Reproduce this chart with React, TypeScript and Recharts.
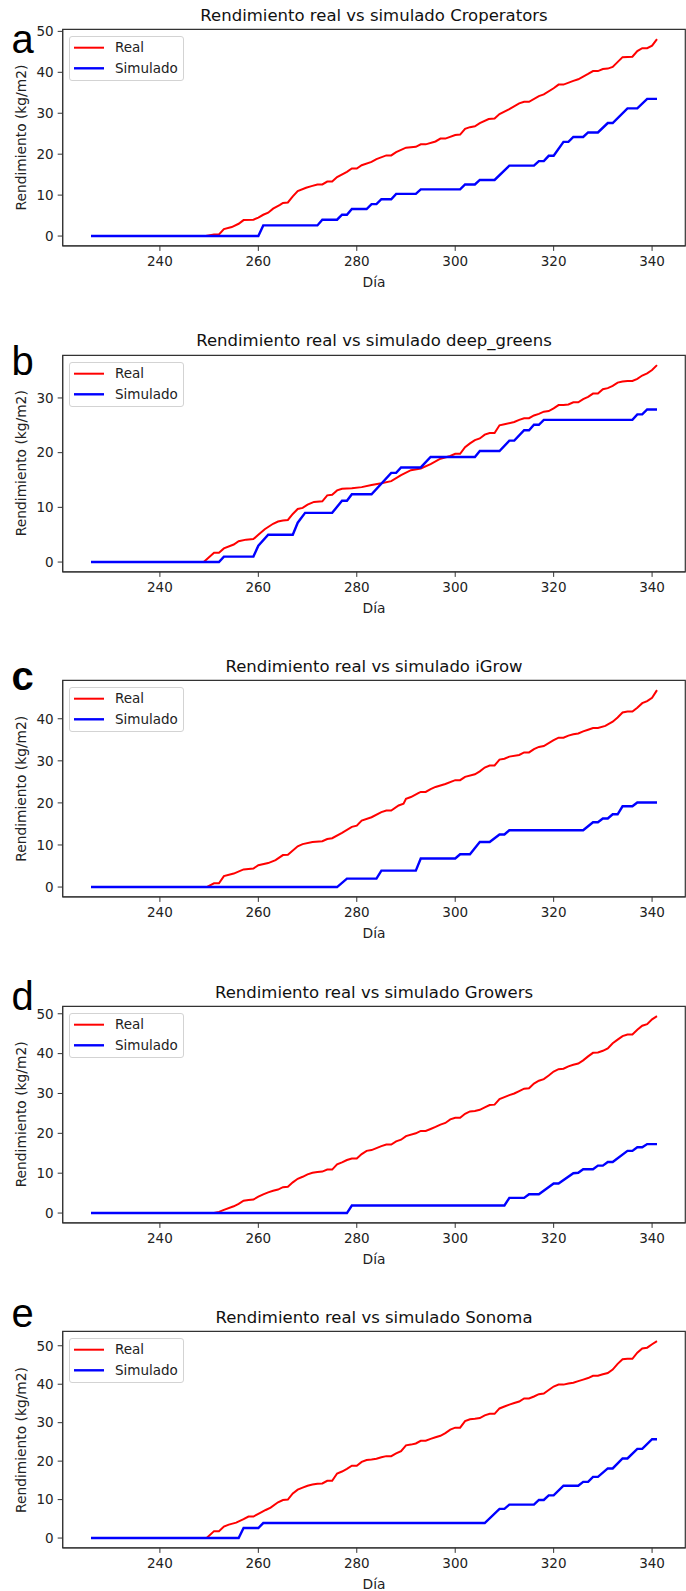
import { LineChart, Line, XAxis, YAxis, ReferenceArea, Legend } from 'recharts';

type Pt = [number, number];

// day -> kg/m2
const realA: Pt[] = [[226,0],[249.3,0],[251,0.4],[252,0.4],[253,1.7],[254.6,2.2],[256,3.0],[257,3.9],[259,4.0],[260,4.5],[261,5.2],[262,5.7],[263,6.7],[264.4,7.6],[265,8.1],[266,8.2],[267,9.7],[268,11.0],[269.7,11.8],[270.8,12.2],[272,12.6],[273,12.6],[274,13.3],[275,13.3],[276,14.4],[278,15.7],[279,16.5],[280,16.5],[281,17.3],[283,18.1],[284,18.8],[286,19.7],[287,19.7],[288,20.5],[290,21.6],[292,21.8],[293,22.4],[294,22.4],[296,23.1],[297,23.8],[298,23.8],[300,24.7],[301,24.8],[302,26.2],[303,26.6],[304,26.8],[305,27.6],[306.8,28.6],[308,28.7],[309,29.8],[311,31.0],[313,32.4],[314,32.8],[315,32.8],[317,34.2],[318,34.6],[320,36.1],[321,37.0],[322,37.0],[324,37.9],[325,38.3],[327,39.6],[328,40.3],[329,40.3],[330,40.8],[331,40.9],[332,41.3],[334,43.7],[336,43.8],[337,45.2],[338,45.9],[339,45.9],[340,46.5],[341,48.1]];
const simA: Pt[] = [[226,0],[260,0],[261,2.6],[272,2.6],[273,4.0],[276,4.0],[277,5.2],[278,5.2],[279,6.6],[282,6.6],[283,7.8],[284,7.8],[285,9.0],[287,9.0],[288,10.3],[292,10.3],[293,11.4],[301,11.4],[302,12.6],[304,12.6],[305,13.7],[308,13.7],[311,17.2],[316,17.2],[317,18.3],[318,18.3],[319,19.6],[320,19.6],[322,23.0],[323,23.0],[324,24.2],[326,24.2],[327,25.3],[329,25.3],[331,27.6],[332,27.6],[335,31.2],[337,31.2],[339,33.5],[341,33.5]];

const realB: Pt[] = [[226,0],[248.9,0],[251,1.7],[252,1.7],[253,2.5],[255,3.2],[256,3.8],[257.5,4.1],[259,4.2],[260,5.0],[261.3,6.0],[263,7.0],[264,7.4],[265,7.6],[266,7.7],[267,8.8],[268,9.7],[269,9.9],[270,10.5],[271.3,11.0],[273,11.1],[274,12.2],[275,12.3],[276,13.1],[277,13.4],[279,13.5],[281,13.7],[283,14.1],[285,14.4],[287,14.8],[289,15.9],[291,16.8],[293,17.1],[295,17.9],[297,18.9],[299,19.4],[300,19.8],[301,19.8],[302,21.0],[303,21.7],[304,22.3],[305,22.6],[306,23.3],[307,23.6],[308,23.6],[309,25.0],[310,25.2],[312,25.6],[313,26.0],[314,26.3],[315,26.3],[316,26.8],[317,27.1],[318,27.5],[319,27.6],[320,28.1],[321,28.7],[322,28.7],[323,28.8],[324,29.2],[325,29.2],[326,29.8],[327,30.2],[328,30.8],[329,30.8],[330,31.6],[331,31.8],[332,32.2],[333,32.8],[334,33.0],[335,33.1],[336,33.1],[337,33.5],[338,34.1],[339,34.5],[340,35.1],[341,36.0]];
const simB: Pt[] = [[226,0],[252,0],[253,1.0],[259,1.0],[260,3.0],[262,5.0],[267,5.0],[268,7.2],[269.5,9.0],[275,9.0],[277,11.2],[278,11.2],[279,12.4],[283,12.4],[287,16.3],[288,16.3],[289,17.3],[293,17.3],[295,19.2],[304,19.2],[305,20.3],[309,20.3],[311,22.2],[312,22.2],[314,24.1],[315,24.1],[316,25.1],[317,25.1],[318,26.0],[336,26.0],[337,27.0],[338,27.0],[339,27.9],[341,27.9]];

const realC: Pt[] = [[226,0],[249.5,0],[251,0.9],[252,0.9],[253,2.6],[255,3.2],[257,4.2],[259,4.4],[260,5.2],[262,5.7],[263.5,6.4],[265,7.6],[266,7.7],[268,9.7],[269,10.2],[271,10.7],[273,10.9],[274,11.4],[275,11.6],[277,12.9],[279,14.3],[280,14.6],[281,15.8],[283,16.6],[285,17.8],[286,18.2],[287,18.2],[288.5,19.4],[289.5,19.8],[290,21.0],[291,21.4],[292.5,22.3],[293,22.6],[294,22.6],[295,23.3],[296,23.8],[298,24.5],[300,25.4],[301,25.4],[302,26.2],[304,26.8],[305,27.5],[306,28.4],[307,28.9],[308,28.9],[309,30.3],[310,30.5],[311,31.0],[313,31.4],[314,32.0],[315,32.0],[316,32.8],[317,33.3],[318,33.5],[320,34.9],[321,35.5],[322,35.5],[323,36.0],[324,36.3],[325,36.5],[326,37.0],[327,37.4],[328,37.8],[329,37.8],[330.5,38.3],[332,39.3],[333,40.3],[334,41.5],[335,41.7],[336,41.7],[337,42.6],[338,43.7],[339,44.2],[340,45.0],[341,46.8]];
const simC: Pt[] = [[226,0],[276,0],[278,2.0],[284,2.0],[285,3.9],[292,3.9],[293,6.8],[300,6.8],[301,7.8],[303,7.8],[304.5,10.0],[305,10.7],[307,10.7],[309,12.5],[310,12.5],[311,13.5],[326,13.5],[328,15.4],[329,15.4],[330,16.3],[331,16.3],[332,17.3],[333,17.3],[334,19.2],[336,19.2],[337,20.1],[341,20.1]];

const realD: Pt[] = [[226,0],[251,0],[252,0.3],[253,0.8],[255,1.7],[256,2.3],[257,3.1],[258,3.3],[259,3.4],[260,4.1],[261,4.7],[262,5.2],[263,5.6],[264,5.9],[265,6.5],[266,6.6],[267,7.7],[268,8.6],[269,9.1],[270,9.7],[271,10.1],[272,10.3],[273,10.4],[274,10.9],[275,10.9],[276,12.2],[277,12.7],[278,13.3],[279,13.7],[280,13.7],[281,14.8],[282,15.6],[283,15.8],[284,16.3],[285,16.8],[286,17.2],[287,17.2],[288,18.0],[289,18.4],[290,19.3],[292,20.0],[293,20.6],[294,20.6],[295,21.1],[296,21.6],[297,22.2],[298,22.6],[299,23.5],[300,23.9],[301,23.9],[302,24.9],[303,25.5],[304,25.6],[305,25.9],[306,26.5],[307,27.1],[308,27.2],[309,28.6],[310,29.1],[311,29.6],[312,30.0],[313,30.6],[314,31.2],[315,31.3],[316,32.5],[317,33.2],[318,33.6],[319,34.5],[320,35.5],[321,36.1],[322,36.2],[323,36.8],[324,37.2],[325,37.5],[326,38.3],[327,39.3],[328,40.2],[329,40.3],[330,40.7],[331,41.3],[332,42.6],[333,43.5],[334,44.4],[335,44.8],[336,44.8],[337,46.0],[338,47.0],[339,47.4],[340,48.6],[341,49.4]];
const simD: Pt[] = [[226,0],[278,0],[279,1.9],[310,1.9],[311,3.8],[314,3.8],[315,4.7],[317,4.7],[320,7.4],[321,7.4],[324,10.0],[325,10.1],[326,11.0],[328,11.0],[329,11.9],[330,11.9],[331,12.8],[332,12.8],[335,15.6],[336,15.6],[337,16.5],[338,16.5],[339,17.3],[341,17.3]];

const realE: Pt[] = [[226,0],[249.5,0],[251,1.8],[252,1.8],[253,3.0],[254,3.5],[255.5,4.0],[257,4.9],[258,5.6],[259,5.6],[260,6.3],[261.5,7.3],[262.5,7.9],[264,9.3],[265,9.9],[266,10.0],[267,11.6],[268,12.6],[269,13.1],[270,13.6],[271,13.9],[272,14.1],[273,14.2],[274,14.9],[275,14.9],[276,16.8],[277,17.3],[278,18.0],[279,18.8],[280,18.8],[281,19.8],[282,20.3],[283,20.4],[284,20.6],[285,21.0],[286,21.3],[287,21.3],[288,22.0],[289,22.6],[290,24.1],[291,24.3],[292,24.6],[293,25.3],[294,25.3],[295,25.8],[296,26.2],[297,26.6],[298,27.3],[299,28.2],[300,28.7],[301,28.7],[302,30.4],[303,30.9],[304,31.0],[305,31.2],[306,31.9],[307,32.3],[308,32.3],[309,33.7],[310,34.2],[311,34.7],[312,35.1],[313,35.5],[314,36.3],[315,36.3],[316,36.8],[317,37.4],[318,37.6],[319,38.5],[320,39.4],[321,39.9],[322,39.9],[323,40.2],[324,40.4],[325,40.8],[326,41.2],[327,41.6],[328,42.2],[329,42.2],[330,42.6],[331,42.9],[332,43.8],[333,45.3],[334,46.5],[335,46.6],[336,46.6],[337,48.2],[338,49.3],[339,49.5],[340,50.4],[341,51.2]];
const simE: Pt[] = [[226,0],[256,0],[257,2.6],[260,2.6],[261,3.9],[306,3.9],[309,7.6],[310,7.6],[311,8.7],[316,8.7],[317,9.9],[318,9.9],[319,11.1],[320,11.1],[322,13.6],[325,13.6],[326,14.6],[327,14.6],[328,15.9],[329,15.9],[331,18.1],[332,18.1],[334,20.7],[335,20.7],[337,23.2],[338,23.2],[340,25.7],[341,25.7]];

const xTicks = [240, 260, 280, 300, 320, 340];
const yTicksA = [0, 10, 20, 30, 40, 50];
const yTicksB = [0, 10, 20, 30];
const yTicksC = [0, 10, 20, 30, 40];
const yTicksD = [0, 10, 20, 30, 40, 50];
const yTicksE = [0, 10, 20, 30, 40, 50];

const names = ['Croperators', 'deep_greens', 'iGrow', 'Growers', 'Sonoma'];
const letters = ['a', 'b', 'c', 'd', 'e'];

const panels = [
  { real: realA, sim: simA, yTicks: yTicksA },
  { real: realB, sim: simB, yTicks: yTicksB },
  { real: realC, sim: simC, yTicks: yTicksC },
  { real: realD, sim: simD, yTicks: yTicksD },
  { real: realE, sim: simE, yTicks: yTicksE },
];

// layout (px)
const W = 686;
const H = 1591;
const PLOT_LEFT = 62.7;
const PLOT_RIGHT = 685.3;
const PLOT_H = 216.6;
const TOP_PAD = 29.3;
const CHART_H = 300;
const AXIS_H = 50;
const panelTops = [29.3, 354.9, 680.5, 1006.1, 1331.7];
const letterBase = [53.3, 375, 690, 1010, 1327.3];
const X_DOMAIN: [number, number] = [220.25, 346.75];

const FONT = '"DejaVu Sans", sans-serif';
const TXT = '#222';
const SPINE = '#333';

const tickStyle = { fontFamily: FONT, fontSize: 13.5, fill: TXT };

function LegendBox() {
  return (
    <div
      style={{
        width: 115,
        height: 45,
        boxSizing: 'border-box',
        border: '1px solid #d3d3d3',
        borderRadius: 3,
        background: 'rgba(255,255,255,0.85)',
      }}
    >
      <svg width={113} height={43} style={{ display: 'block' }}>
        <line x1={4} x2={34} y1={10.7} y2={10.7} stroke="#ff0000" strokeWidth={2} />
        <text x={45} y={15.3} fontFamily={FONT} fontSize={13.5} fill={TXT}>Real</text>
        <line x1={4} x2={34} y1={31.3} y2={31.3} stroke="#0000ff" strokeWidth={2.4} />
        <text x={45} y={35.9} fontFamily={FONT} fontSize={13.5} fill={TXT}>Simulado</text>
      </svg>
    </div>
  );
}

function Panel({ idx }: { idx: number }) {
  const { real, sim, yTicks } = panels[idx];
  const maxV = Math.max(...real.map((p) => p[1]), ...sim.map((p) => p[1]));
  const yDomain: [number, number] = [-0.05 * maxV, 1.05 * maxV];
  const realData = real.map(([day, v]) => ({ day, v }));
  const simData = sim.map(([day, v]) => ({ day, v }));
  const top = panelTops[idx] - TOP_PAD;

  return (
    <div style={{ position: 'absolute', left: 0, top, width: W, height: CHART_H }}>
      <LineChart
        width={W}
        height={CHART_H}
        margin={{ top: TOP_PAD, right: W - PLOT_RIGHT, left: 0, bottom: CHART_H - TOP_PAD - PLOT_H - AXIS_H }}
      >
        <XAxis
          dataKey="day"
          type="number"
          domain={X_DOMAIN}
          ticks={xTicks}
          allowDataOverflow
          height={AXIS_H}
          stroke={SPINE}
          tickSize={5}
          tickMargin={6}
          tick={tickStyle}
        />
        <YAxis
          type="number"
          domain={yDomain}
          ticks={yTicks}
          allowDataOverflow
          width={PLOT_LEFT}
          stroke={SPINE}
          tickSize={5}
          tickMargin={4}
          tick={tickStyle}
        />
        <ReferenceArea
          x1={X_DOMAIN[0]}
          x2={X_DOMAIN[1]}
          y1={yDomain[0]}
          y2={yDomain[1]}
          fill="none"
          stroke={SPINE}
          strokeWidth={1.2}
          ifOverflow="visible"
        />
        <Line data={realData} dataKey="v" name="Real" type="linear" stroke="#ff0000" strokeWidth={2} dot={false} isAnimationActive={false} />
        <Line data={simData} dataKey="v" name="Simulado" type="linear" stroke="#0000ff" strokeWidth={2.4} dot={false} isAnimationActive={false} />
        <Legend
          layout="vertical"
          align="center"
          verticalAlign="middle"
          content={() => <LegendBox />}
          wrapperStyle={{ left: 69, top: TOP_PAD + 6.7, width: 115, height: 45 }}
        />
      </LineChart>
    </div>
  );
}

export default function App() {
  const plotMidX = (PLOT_LEFT + PLOT_RIGHT) / 2;
  return (
    <div style={{ position: 'absolute', left: 0, top: 0, width: W, height: H, overflow: 'hidden', background: '#fff' }}>
      {panels.map((_, i) => (
        <Panel key={i} idx={i} />
      ))}
      <svg width={W} height={H} style={{ position: 'absolute', left: 0, top: 0, pointerEvents: 'none' }}>
        {panels.map((_, i) => {
          const t = panelTops[i];
          const midY = t + PLOT_H / 2;
          return (
            <g key={i}>
              <text x={plotMidX} y={t - 8.6} textAnchor="middle" fontFamily={FONT} fontSize={16.5} fill="#111">
                {`Rendimiento real vs simulado ${names[i]}`}
              </text>
              <text
                x={11.5}
                y={letterBase[i]}
                fontFamily='"Liberation Sans", Arial, sans-serif'
                fontSize={40}
                fontWeight={letters[i] === 'c' ? 'bold' : 'normal'}
                fill="#000"
              >
                {letters[i]}
              </text>
              <text
                x={26}
                y={midY}
                transform={`rotate(-90 26 ${midY})`}
                textAnchor="middle"
                fontFamily={FONT}
                fontSize={13.8}
                fill={TXT}
              >
                Rendimiento (kg/m2)
              </text>
              <text x={plotMidX} y={t + PLOT_H + 41} textAnchor="middle" fontFamily={FONT} fontSize={13.8} fill={TXT}>
                Día
              </text>
            </g>
          );
        })}
      </svg>
    </div>
  );
}
